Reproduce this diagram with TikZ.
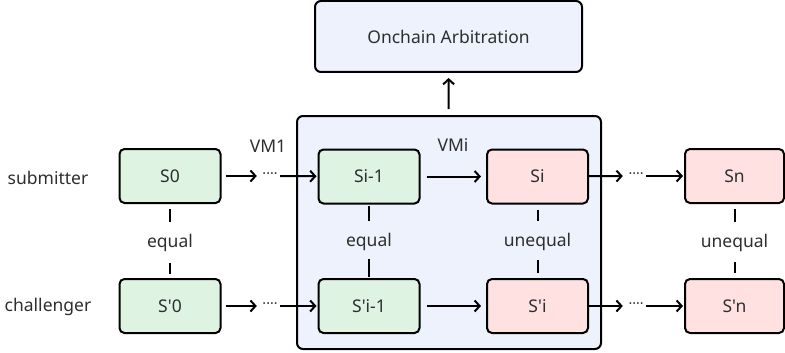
\documentclass[tikz,border=0pt]{standalone}
\usepackage{fontspec}
\newfontfamily\nf{Noto Sans}
\usetikzlibrary{arrows.meta}
\definecolor{txt}{HTML}{2E2E2E}
\definecolor{gfill}{HTML}{DEF3E2}
\definecolor{rfill}{HTML}{FFE1E1}
\definecolor{bfill}{HTML}{EEF2FC}
\tikzset{
  lbl/.style={font=\nf\fontsize{17.5}{21}\selectfont, text=txt, inner sep=0pt},
  boxbase/.style={lbl, draw=black, line width=2pt, rounded corners=5pt, minimum width=101pt, minimum height=54pt},
  gbox/.style={boxbase, fill=gfill},
  rbox/.style={boxbase, fill=rfill},
  cmp/.style={lbl, minimum height=34pt},
  dotsn/.style={lbl, font=\nf\fontsize{14}{16}\selectfont, minimum width=20pt, minimum height=12pt},
  arr/.style={line width=2pt, -{Straight Barb[length=5pt,width=11pt,line width=2pt]}},
  tick/.style={line width=2pt},
}
\begin{document}
\begin{tikzpicture}[x=1pt,y=-1pt]
\useasboundingbox (0,0) rectangle (785,353);
% big VM box
\node[lbl, draw=black, line width=2pt, rounded corners=6pt, fill=bfill, minimum width=304pt, minimum height=233pt] (vm) at (449,232.5) {};
\node[lbl, draw=black, line width=2pt, rounded corners=6pt, fill=bfill, minimum width=267pt, minimum height=71pt] (arb) at (448.5,36.5) {Onchain Arbitration};
\draw[arr, shorten <=6pt, shorten >=5pt] (vm) -- (arb);

% labels
\node[lbl] (sub) at (48,178) {submitter};
\node[lbl] (cha) at (48,307) {challenger};
\node[lbl] (vm1) at (268,146) {VM1};
\node[lbl] (vmi) at (453,145) {VMi};

% state boxes
\node[gbox] (s0) at (170,176) {S0};
\node[gbox] (sp0) at (170,306) {S'0};
\node[gbox] (sim) at (369,176.5) {Si-1};
\node[gbox] (spim) at (369,306) {S'i-1};
\node[rbox] (si) at (537.5,176.5) {Si};
\node[rbox] (spi) at (537.5,306) {S'i};
\node[rbox, minimum width=99pt] (sn) at (734.5,176) {Sn};
\node[rbox, minimum width=99pt] (spn) at (734.5,306) {S'n};

% dots
\node[dotsn] (d1) at (270,176) {····};
\node[dotsn] (d2) at (270,306) {····};
\node[dotsn] (d3) at (636,176) {····};
\node[dotsn] (d4) at (636,306) {····};

% horizontal arrows
\draw[arr, shorten <=4pt, shorten >=3pt] (s0) -- (d1);
\draw[arr, shorten >=1pt] (d1) -- (sim);
\draw[arr, shorten <=4pt, shorten >=3pt] (sp0) -- (d2);
\draw[arr, shorten >=1pt] (d2) -- (spim);
\draw[arr, shorten <=6pt, shorten >=5pt] (sim) -- (si);
\draw[arr, shorten <=6pt, shorten >=5pt] (spim) -- (spi);
\draw[arr, shorten >=3pt] (si) -- (d3);
\draw[arr, shorten >=1pt] (d3) -- (sn);
\draw[arr, shorten >=3pt] (spi) -- (d4);
\draw[arr, shorten >=1pt] (d4) -- (spn);

% comparisons
\node[cmp] (c1) at (170,243) {equal};
\node[cmp] (c2) at (369,242) {equal};
\node[cmp] (c3) at (537.5,242) {unequal};
\node[cmp] (c4) at (734.5,243) {unequal};
\draw[tick, shorten <=5pt, shorten >=4pt] (s0) -- (c1);
\draw[tick, shorten <=3pt, shorten >=4pt] (c1) -- (sp0);
\draw[tick, shorten <=1pt, shorten >=4pt] (sim) -- (c2);
\draw[tick, shorten <=0pt, shorten >=1pt] (c2) -- (spim);
\draw[tick, shorten <=5pt, shorten >=4pt] (si) -- (c3);
\draw[tick, shorten <=1pt, shorten >=5pt] (c3) -- (spi);
\draw[tick, shorten <=5pt, shorten >=4pt] (sn) -- (c4);
\draw[tick, shorten <=2pt, shorten >=5pt] (c4) -- (spn);
\end{tikzpicture}
\end{document}
